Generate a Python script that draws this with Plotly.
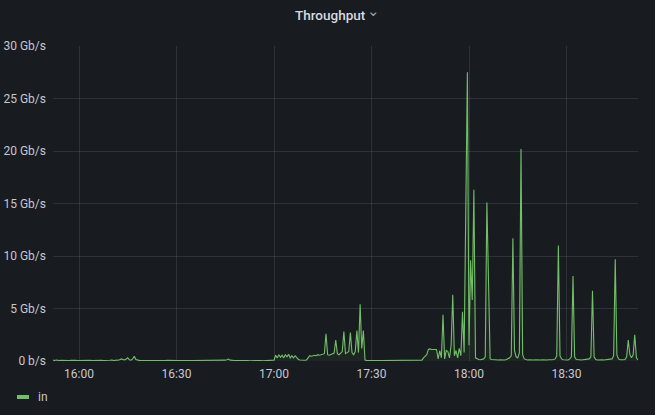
import pandas as pd
import plotly.graph_objects as go

# Throughput "in", Gb/s, one sample every 30 s starting 15:52
start_time = "2024-01-01 15:52:00"
in_gbps = [
    0.08, 0.05, 0.10, 0.06, 0.04, 0.07, 0.05, 0.09, 0.06, 0.05,
    0.04, 0.06, 0.08, 0.05, 0.06, 0.04, 0.05, 0.07, 0.06, 0.05,
    0.05, 0.06, 0.12, 0.07, 0.05, 0.06, 0.04, 0.05, 0.07, 0.05,
    0.06, 0.05, 0.04, 0.06, 0.05, 0.07, 0.08, 0.06, 0.05, 0.10,
    0.07, 0.12, 0.20, 0.15, 0.10, 0.18, 0.30, 0.12, 0.08, 0.20,
    0.45, 0.15, 0.07, 0.06, 0.05, 0.06, 0.04, 0.05, 0.06, 0.05,
    0.05, 0.04, 0.06, 0.05, 0.05, 0.04, 0.06, 0.05, 0.04, 0.05,
    0.06, 0.05, 0.04, 0.05, 0.05, 0.06, 0.04, 0.05, 0.05, 0.04,
    0.05, 0.04, 0.05, 0.06, 0.05, 0.04, 0.05, 0.05, 0.04, 0.06,
    0.05, 0.04, 0.05, 0.05, 0.04, 0.05, 0.06, 0.05, 0.04, 0.05,
    0.04, 0.05, 0.05, 0.04, 0.06, 0.05, 0.08, 0.12, 0.18, 0.08,
    0.05, 0.04, 0.05, 0.04, 0.05, 0.04, 0.05, 0.04, 0.03, 0.04,
    0.04, 0.03, 0.04, 0.05, 0.04, 0.03, 0.04, 0.05, 0.04, 0.03,
    0.04, 0.05, 0.04, 0.04, 0.03, 0.04, 0.08, 0.55, 0.30, 0.60,
    0.35, 0.55, 0.30, 0.60, 0.40, 0.65, 0.30, 0.50, 0.30, 0.50,
    0.30, 0.15, 0.10, 0.08, 0.10, 0.07, 0.10, 0.30, 0.50, 0.45,
    0.50, 0.55, 0.50, 0.60, 0.55, 0.60, 0.65, 0.70, 2.60, 0.60,
    0.55, 0.60, 0.70, 0.75, 2.00, 0.70, 0.60, 0.80, 0.90, 2.80,
    0.70, 0.80, 0.90, 2.70, 0.80, 0.60, 0.90, 2.90, 0.80, 5.40,
    1.20, 2.90, 0.10, 0.06, 0.05, 0.06, 0.05, 0.04, 0.05, 0.06,
    0.05, 0.04, 0.05, 0.05, 0.04, 0.05, 0.06, 0.05, 0.04, 0.05,
    0.05, 0.04, 0.05, 0.06, 0.05, 0.04, 0.05, 0.05, 0.04, 0.05,
    0.05, 0.04, 0.05, 0.06, 0.05, 0.04, 0.05, 0.08, 0.30, 0.45,
    0.60, 1.10, 1.15, 1.10, 1.10, 1.15, 1.10, 0.20, 1.00, 0.30,
    4.40, 0.20, 1.00, 0.90, 0.30, 1.50, 6.30, 0.50, 1.00, 0.30,
    1.20, 0.50, 4.70, 0.80, 12.50, 27.50, 1.50, 9.60, 5.80, 16.30,
    0.30, 0.20, 0.15, 0.12, 0.15, 0.20, 0.40, 15.10, 7.70, 0.20,
    0.15, 0.12, 0.10, 0.12, 0.10, 0.12, 0.10, 0.12, 0.10, 0.15,
    0.20, 0.30, 0.50, 11.70, 1.00, 0.40, 0.30, 0.80, 20.20, 0.60,
    0.20, 0.12, 0.10, 0.12, 0.10, 0.08, 0.10, 0.12, 0.10, 0.08,
    0.10, 0.12, 0.10, 0.08, 0.10, 0.12, 0.10, 0.12, 0.15, 0.20,
    0.50, 11.00, 0.50, 0.20, 0.12, 0.10, 0.12, 0.10, 0.20, 0.40,
    8.10, 0.40, 0.15, 0.10, 0.12, 0.10, 0.12, 0.10, 0.12, 0.15,
    0.20, 0.40, 6.70, 0.40, 0.15, 0.10, 0.12, 0.10, 0.12, 0.10,
    0.12, 0.10, 0.12, 0.15, 0.20, 0.50, 9.70, 0.60, 0.20, 0.12,
    0.10, 0.12, 0.15, 0.40, 2.00, 0.60, 0.30, 0.60, 2.50, 0.30,
    0.10,
]

y_ticks = [0, 5, 10, 15, 20, 25, 30]
y_tick_labels = ["0 b/s", "5 Gb/s", "10 Gb/s", "15 Gb/s", "20 Gb/s", "25 Gb/s", "30 Gb/s"]
series_name = "in"
panel_title = "Throughput"

times = pd.date_range(start_time, periods=len(in_gbps), freq="30s")

BG = "#181b1f"
GREEN = "#73bf69"
TEXT = "#c7c7d1"
GRID = "rgba(204,204,220,0.13)"

W, H = 655, 415
ML, MR, MT, MB = 53, 17, 46, 54


# helpers to place the title / legend in pixel terms
def px_x(x):
    return (x - ML) / (W - ML - MR)


def px_y(y):
    return (H - MB - y) / (H - MT - MB)


fig = go.Figure()

fig.add_trace(go.Scatter(
    x=times,
    y=in_gbps,
    mode="lines",
    name=series_name,
    line=dict(color=GREEN, width=1.1),
    fill="tozeroy",
    fillcolor="rgba(115,191,105,0.07)",
    showlegend=False,
))

fig.update_layout(
    width=W,
    height=H,
    margin=dict(l=ML, r=MR, t=MT, b=MB),
    paper_bgcolor=BG,
    plot_bgcolor=BG,
    font=dict(family="Roboto, sans-serif", size=12, color=TEXT),
    xaxis=dict(
        type="date",
        range=[times[0], times[-1]],
        tickformat="%H:%M",
        dtick=30 * 60 * 1000,
        tick0="2024-01-01 16:00:00",
        showgrid=True,
        gridcolor=GRID,
        gridwidth=1,
        zeroline=False,
        showline=False,
        ticks="",
        ticklabelstandoff=4,
        automargin=False,
    ),
    yaxis=dict(
        range=[0, 30],
        tickvals=y_ticks,
        ticktext=y_tick_labels,
        showgrid=True,
        gridcolor=GRID,
        gridwidth=1,
        zeroline=False,
        showline=False,
        ticks="",
        ticklabelstandoff=6,
        automargin=False,
    ),
    hovermode=False,
)

# panel title
fig.add_annotation(
    text=panel_title,
    xref="paper", yref="paper",
    x=px_x(330), y=px_y(15),
    xanchor="center", yanchor="middle",
    showarrow=False,
    font=dict(size=13.5, color="#d8d9e0", weight=500),
)
# the little dropdown chevron next to it
fig.add_annotation(
    text="⌄",
    xref="paper", yref="paper",
    x=px_x(373.5), y=px_y(11),
    xanchor="center", yanchor="middle",
    showarrow=False,
    font=dict(size=15, color="#a0a1aa"),
)

# grafana style legend
fig.add_shape(
    type="line",
    xref="paper", yref="paper",
    x0=px_x(17), x1=px_x(29),
    y0=px_y(397), y1=px_y(397),
    line=dict(color=GREEN, width=4),
)
fig.add_annotation(
    text=series_name,
    xref="paper", yref="paper",
    x=px_x(36), y=px_y(397),
    xanchor="left", yanchor="middle",
    showarrow=False,
    font=dict(size=12, color=TEXT),
)

# page body margin would push the figure out of the 655x415 window
fig.write_html(
    "out.html",
    config={"displayModeBar": False},
    post_script="document.body.style.margin='0';",
)
